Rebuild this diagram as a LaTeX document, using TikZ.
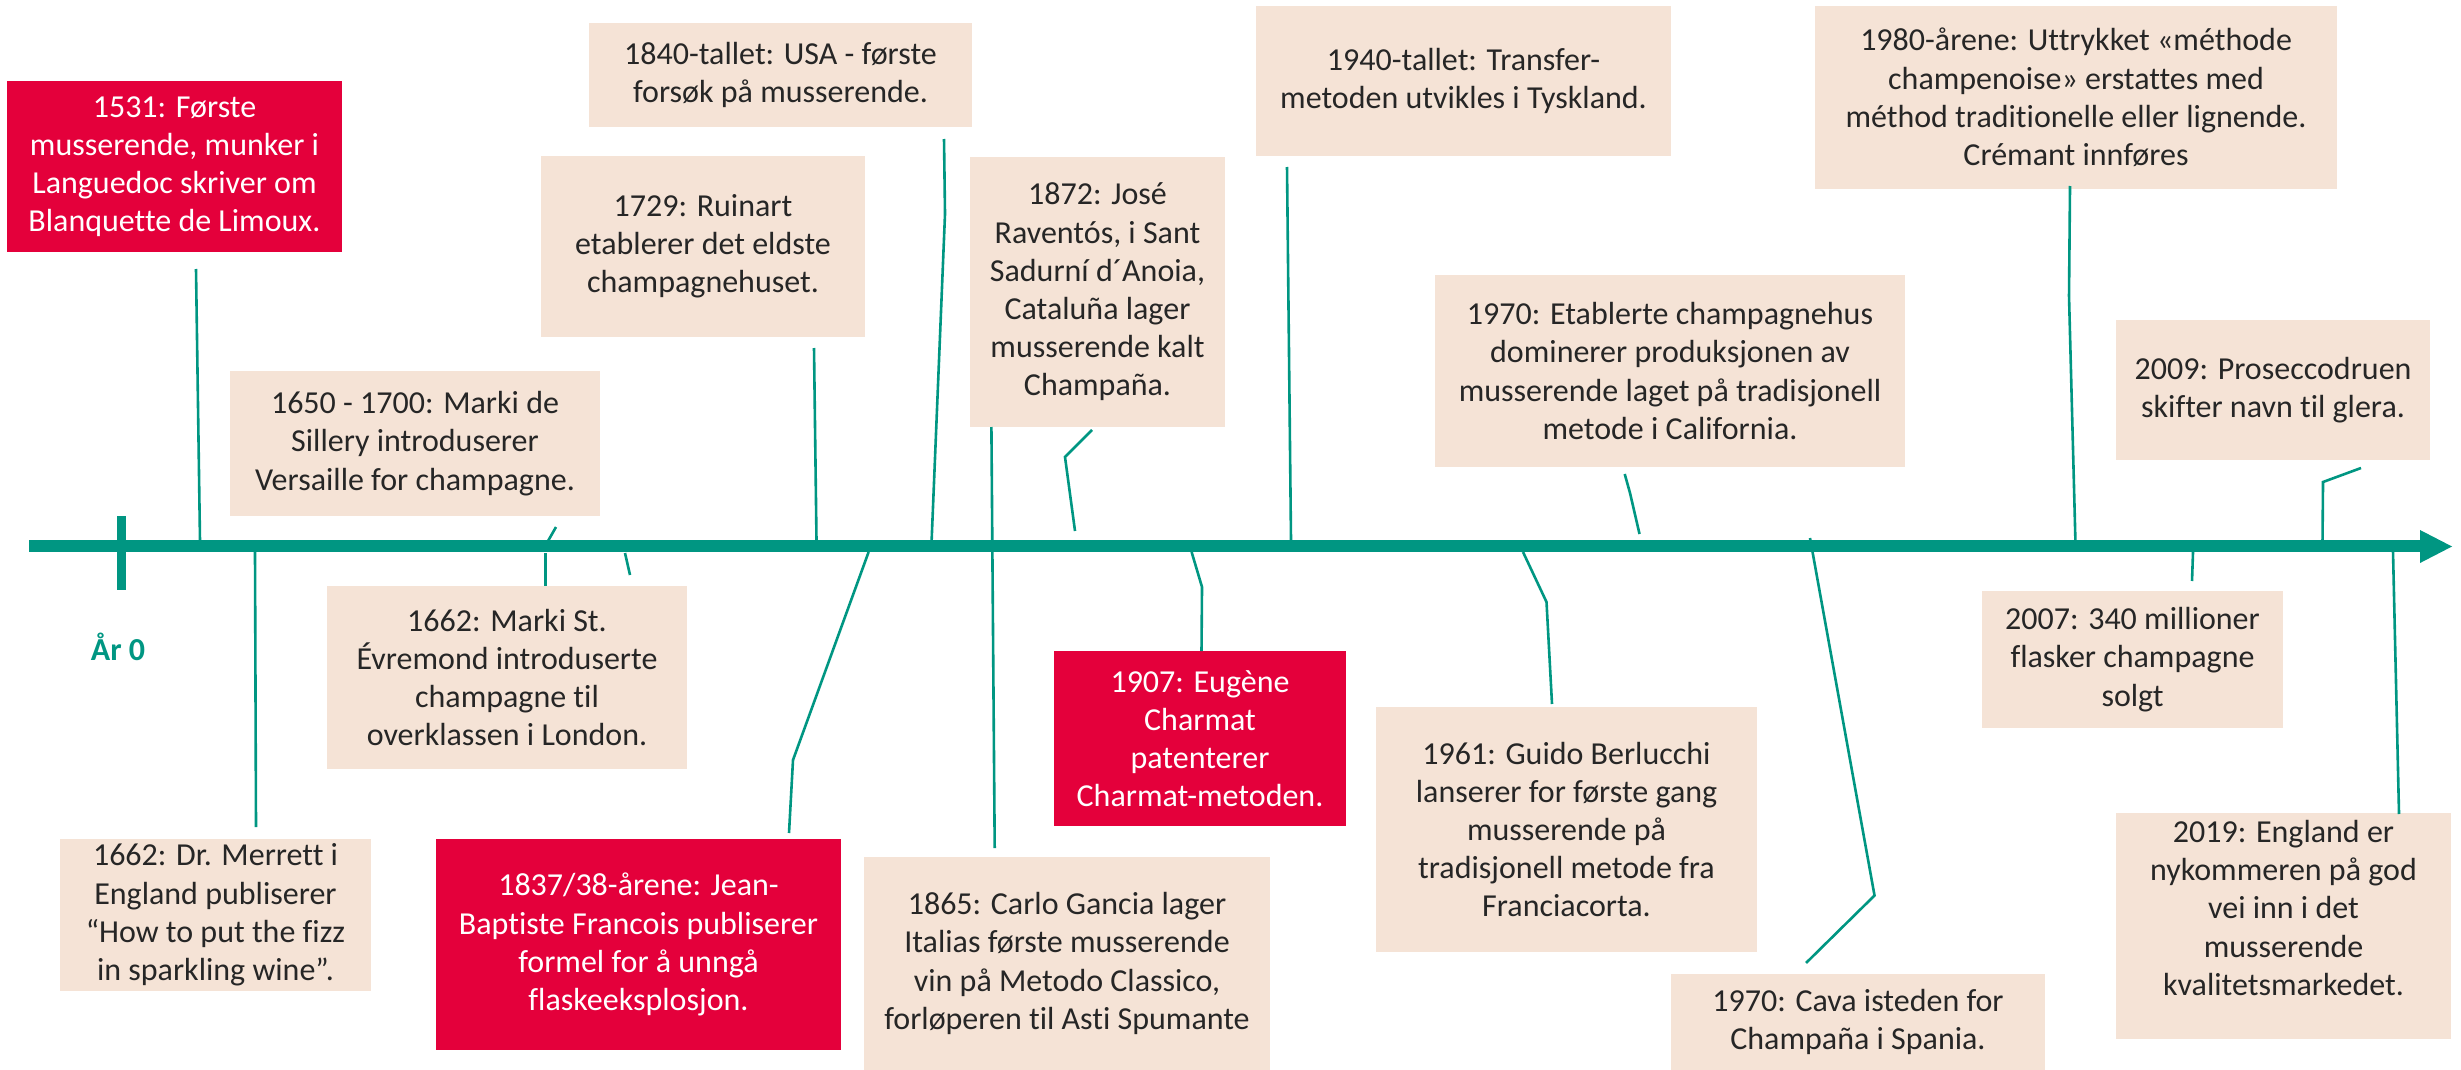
\documentclass[tikz,border=0pt]{standalone}
\usepackage{fontspec}
\setmainfont{Carlito}[Ligatures={NoCommon}]
\definecolor{beige}{RGB}{245,227,214}
\definecolor{wred}{RGB}{228,0,59}
\definecolor{tl}{RGB}{0,150,130}
\definecolor{txt}{RGB}{38,38,38}
\begin{document}
\begin{tikzpicture}[x=0.5pt,y=-0.5pt,
  box/.style={fill=beige, text=txt, align=center, inner sep=0pt, font=\fontsize{16}{19.1}\selectfont},
  redbox/.style={box, fill=wred, text=white},
  sz/.style 2 args={minimum width=#1*0.5pt, minimum height=#2*0.5pt},
  conn/.style={draw=tl, line width=1.3pt}]
\useasboundingbox (0,0) rectangle (2461,1070);

% axis
\coordinate (axL) at (29,546);
\coordinate (axR) at (2420,546);
\draw[tl, line width=6pt] (axL) -- (axR);
\fill[tl] (2420,530) -- (2452,546.5) -- (2420,563) -- cycle;
\draw[tl, line width=4.5pt] (121,516) -- (121,590);
\node[text=tl, font=\fontsize{16}{19}\selectfont\bfseries] (ar0) at (118,647) {År 0};

% boxes
\node[redbox, sz={335}{171}] (b1531) at (174.5,166.5) {1531: Første\\musserende, munker i\\Languedoc skriver om\\Blanquette de Limoux.};
\node[box, sz={383}{104}] (b1840) at (780.5,75) {1840-tallet: USA - første\\forsøk på musserende.};
\node[box, sz={324}{181}] (b1729) at (703,246.5) {1729: Ruinart\\etablerer det eldste\\champagnehuset.};
\node[box, sz={370}{145}] (b1650) at (415,443.5) {1650 - 1700: Marki de\\Sillery introduserer\\Versaille for champagne.};
\node[box, sz={360}{183}] (b1662s) at (507,677.5) {1662: Marki St.\\Évremond introduserte\\champagne til\\overklassen i London.};
\node[box, sz={311}{152}] (b1662m) at (215.5,915) {1662: Dr. Merrett i\\England publiserer\\“How to put the fizz\\in sparkling wine”.};
\node[redbox, sz={405}{211}] (b1837) at (638.5,944.5) {1837/38-årene: Jean-\\Baptiste Francois publiserer\\formel for å unngå\\flaskeeksplosjon.};
\node[box, sz={406}{213}] (b1865) at (1067,963.5) {1865: Carlo Gancia lager\\Italias første musserende\\vin på Metodo Classico,\\forløperen til Asti Spumante};
\node[box, sz={255}{270}] (b1872) at (1097.5,292) {1872: José\\Raventós, i Sant\\Sadurní d´Anoia,\\Cataluña lager\\musserende kalt\\Champaña.};
\node[redbox, sz={292}{175}] (b1907) at (1200,738.5) {1907: Eugène\\Charmat\\patenterer\\Charmat-metoden.};
\node[box, sz={415}{150}] (b1940) at (1463.5,81) {1940-tallet: Transfer-\\metoden utvikles i Tyskland.};
\node[box, sz={381}{245}] (b1961) at (1566.5,829.5) {1961: Guido Berlucchi\\lanserer for første gang\\musserende på\\tradisjonell metode fra\\Franciacorta.};
\node[box, sz={470}{192}] (b1970e) at (1670,371) {1970: Etablerte champagnehus\\dominerer produksjonen av\\musserende laget på tradisjonell\\metode i California.};
\node[box, sz={374}{96}] (b1970c) at (1858,1022) {1970: Cava isteden for\\Champaña i Spania.};
\node[box, sz={522}{183}] (b1980) at (2076,97.5) {1980-årene: Uttrykket «méthode\\champenoise» erstattes med\\méthod traditionelle eller lignende.\\Crémant innføres};
\node[box, sz={314}{140}] (b2009) at (2273,390) {2009: Proseccodruen\\skifter navn til glera.};
\node[box, sz={301}{137}] (b2007) at (2132.5,659.5) {2007: 340 millioner\\flasker champagne\\solgt};
\node[box, sz={335}{226}] (b2019) at (2283.5,926) {};
\node[box, fill=none] (t2019) at (2283.5,908) {2019: England er\\nykommeren på god\\vei inn i det\\musserende\\kvalitetsmarkedet.};

% connector points
\coordinate (p1531a) at (196,269); \coordinate (p1531b) at (200,541);
\coordinate (pMa) at (255,552); \coordinate (pMb) at (256,827);
\coordinate (p1650a) at (556,527); \coordinate (p1650b) at (548,541);
\coordinate (pSa) at (545.5,553); \coordinate (pSb) at (545.5,586);
\coordinate (pDa) at (625,553); \coordinate (pDb) at (630,575);
\coordinate (p1729a) at (814,348); \coordinate (p1729b) at (816.5,541);
\coordinate (p1837a) at (868.6,552); \coordinate (p1837b) at (793,760); \coordinate (p1837c) at (789,833);
\coordinate (p1840a) at (944,139); \coordinate (p1840b) at (945,214); \coordinate (p1840c) at (931.6,541);
\coordinate (p1865a) at (991.4,427); \coordinate (p1865b) at (994.7,848);
\coordinate (p1872a) at (1092,430); \coordinate (p1872b) at (1065,457); \coordinate (p1872c) at (1075,531);
\coordinate (p1907a) at (1191.6,552); \coordinate (p1907b) at (1202,587); \coordinate (p1907c) at (1201.5,651);
\coordinate (p1940a) at (1287,167); \coordinate (p1940b) at (1291,541);
\coordinate (p1961a) at (1523,552); \coordinate (p1961b) at (1546.5,602); \coordinate (p1961c) at (1552,704);
\coordinate (p70ea) at (1624.7,474); \coordinate (p70eb) at (1630,493); \coordinate (p70ec) at (1639.5,534);
\coordinate (p70ca) at (1810,538); \coordinate (p70cb) at (1874.5,895.5); \coordinate (p70cc) at (1806,963);
\coordinate (p1980a) at (2070,186); \coordinate (p1980b) at (2069,296); \coordinate (p1980c) at (2075.4,541);
\coordinate (p2009a) at (2361,468); \coordinate (p2009b) at (2323,482); \coordinate (p2009c) at (2322.5,541);
\coordinate (p2007a) at (2193,552); \coordinate (p2007b) at (2192,581);
\coordinate (p2019a) at (2393,552); \coordinate (p2019b) at (2399,814);

\draw[conn] (p1531a) -- (p1531b);
\draw[conn] (pMa) -- (pMb);
\draw[conn] (p1650a) -- (p1650b);
\draw[conn] (pSa) -- (pSb);
\draw[conn] (pDa) -- (pDb);
\draw[conn] (p1729a) -- (p1729b);
\draw[conn] (p1837a) -- (p1837b) -- (p1837c);
\draw[conn] (p1840a) -- (p1840b) -- (p1840c);
\draw[conn] (p1865a) -- (p1865b);
\draw[conn] (p1872a) -- (p1872b) -- (p1872c);
\draw[conn] (p1907a) -- (p1907b) -- (p1907c);
\draw[conn] (p1940a) -- (p1940b);
\draw[conn] (p1961a) -- (p1961b) -- (p1961c);
\draw[conn] (p70ea) -- (p70eb) -- (p70ec);
\draw[conn] (p70ca) -- (p70cb) -- (p70cc);
\draw[conn] (p1980a) -- (p1980b) -- (p1980c);
\draw[conn] (p2009a) -- (p2009b) -- (p2009c);
\draw[conn] (p2007a) -- (p2007b);
\draw[conn] (p2019a) -- (p2019b);
\end{tikzpicture}
\end{document}
